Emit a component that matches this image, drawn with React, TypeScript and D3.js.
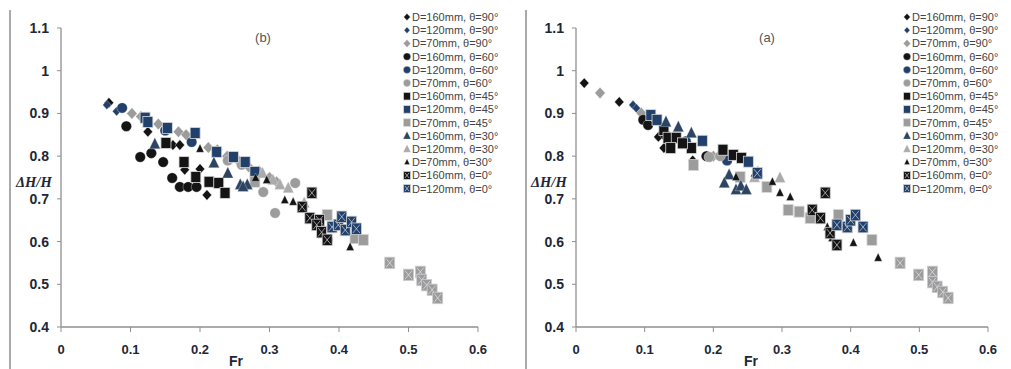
import React from "react";
import * as d3 from "d3";

type Pt = [number, number];

// ---------- tick values ----------
const yTicks = [0.4, 0.5, 0.6, 0.7, 0.8, 0.9, 1, 1.1];
const xTicks = [0, 0.1, 0.2, 0.3, 0.4, 0.5, 0.6];

// ---------- legend labels ----------
const legendLabels = [
  "D=160mm, θ=90°",
  "D=120mm, θ=90°",
  "D=70mm, θ=90°",
  "D=160mm, θ=60°",
  "D=120mm, θ=60°",
  "D=70mm, θ=60°",
  "D=160mm, θ=45°",
  "D=120mm, θ=45°",
  "D=70mm, θ=45°",
  "D=160mm, θ=30°",
  "D=120mm, θ=30°",
  "D=70mm, θ=30°",
  "D=160mm, θ=0°",
  "D=120mm, θ=0°",
];

// ---------- panel (b) data: [Fr, ΔH/H] ----------
const b160_90: Pt[] = [[0.069, 0.925], [0.125, 0.857], [0.161, 0.826], [0.171, 0.826], [0.178, 0.768], [0.2, 0.77], [0.21, 0.709]];
const b120_90: Pt[] = [[0.066, 0.92], [0.08, 0.905]];
const b70_90: Pt[] = [[0.102, 0.9], [0.115, 0.893], [0.14, 0.875], [0.169, 0.857], [0.18, 0.85], [0.212, 0.82], [0.225, 0.815], [0.239, 0.8], [0.255, 0.79], [0.27, 0.775], [0.285, 0.765], [0.3, 0.75], [0.31, 0.74]];
const b160_60: Pt[] = [[0.094, 0.87], [0.114, 0.798], [0.13, 0.807], [0.147, 0.786], [0.16, 0.749], [0.171, 0.728], [0.183, 0.728], [0.195, 0.728]];
const b120_60: Pt[] = [[0.088, 0.913], [0.15, 0.86], [0.188, 0.833]];
const b70_60: Pt[] = [[0.24, 0.79], [0.26, 0.78], [0.291, 0.716], [0.337, 0.737], [0.308, 0.667], [0.384, 0.604]];
const b160_45: Pt[] = [[0.151, 0.831], [0.177, 0.786], [0.194, 0.751], [0.213, 0.74], [0.227, 0.737], [0.236, 0.714]];
const b120_45: Pt[] = [[0.121, 0.89], [0.125, 0.88], [0.153, 0.866], [0.193, 0.854], [0.224, 0.81], [0.248, 0.798], [0.265, 0.786], [0.279, 0.763]];
const b70_45: Pt[] = [[0.279, 0.74], [0.383, 0.662], [0.423, 0.608], [0.435, 0.604]];
const b160_30: Pt[] = [[0.135, 0.828], [0.22, 0.784], [0.24, 0.76], [0.258, 0.733], [0.268, 0.733], [0.262, 0.728]];
const b120_30: Pt[] = [[0.29, 0.76], [0.305, 0.744], [0.315, 0.733], [0.327, 0.725], [0.35, 0.69]];
const b70_30: Pt[] = [[0.2, 0.817], [0.28, 0.749], [0.296, 0.744], [0.322, 0.697], [0.334, 0.693], [0.416, 0.587]];
const b160_0: Pt[] = [[0.361, 0.714], [0.347, 0.681], [0.358, 0.655], [0.372, 0.65], [0.368, 0.639], [0.375, 0.622], [0.383, 0.604]];
const b120_0: Pt[] = [[0.39, 0.634], [0.399, 0.639], [0.404, 0.658], [0.409, 0.627], [0.418, 0.646], [0.425, 0.63]];
const b70_0: Pt[] = [[0.473, 0.55], [0.5, 0.522], [0.517, 0.529], [0.519, 0.51], [0.526, 0.498], [0.534, 0.487], [0.542, 0.468]];

// ---------- panel (a) data: [Fr, ΔH/H] ----------
const a160_90: Pt[] = [[0.012, 0.971], [0.063, 0.927], [0.12, 0.845], [0.128, 0.819], [0.17, 0.79]];
const a120_90: Pt[] = [[0.083, 0.92], [0.088, 0.912]];
const a70_90: Pt[] = [[0.035, 0.948], [0.095, 0.901], [0.2, 0.8]];
const a160_60: Pt[] = [[0.098, 0.885], [0.105, 0.873], [0.13, 0.85], [0.19, 0.8]];
const a120_60: Pt[] = [[0.16, 0.835], [0.22, 0.79]];
const a70_60: Pt[] = [[0.194, 0.798], [0.21, 0.8]];
const a160_45: Pt[] = [[0.128, 0.861], [0.134, 0.843], [0.146, 0.843], [0.138, 0.819], [0.168, 0.819], [0.214, 0.815], [0.229, 0.803], [0.241, 0.796], [0.155, 0.83]];
const a120_45: Pt[] = [[0.109, 0.896], [0.118, 0.885], [0.184, 0.836], [0.251, 0.787]];
const a70_45: Pt[] = [[0.171, 0.779], [0.239, 0.751], [0.278, 0.728], [0.309, 0.674], [0.325, 0.67], [0.341, 0.655], [0.382, 0.662], [0.431, 0.604]];
const a160_30: Pt[] = [[0.131, 0.88], [0.149, 0.868], [0.168, 0.854], [0.223, 0.756], [0.216, 0.737], [0.233, 0.721], [0.24, 0.73], [0.248, 0.721]];
const a120_30: Pt[] = [[0.26, 0.75], [0.265, 0.763], [0.297, 0.749]];
const a70_30: Pt[] = [[0.233, 0.751], [0.26, 0.76], [0.286, 0.74], [0.297, 0.714], [0.312, 0.704], [0.366, 0.634], [0.373, 0.608], [0.404, 0.597], [0.44, 0.562]];
const a160_0: Pt[] = [[0.363, 0.714], [0.344, 0.674], [0.356, 0.655], [0.37, 0.62], [0.38, 0.592]];
const a120_0: Pt[] = [[0.264, 0.76], [0.38, 0.639], [0.395, 0.634], [0.4, 0.65], [0.407, 0.662], [0.418, 0.634]];
const a70_0: Pt[] = [[0.472, 0.55], [0.499, 0.522], [0.519, 0.529], [0.519, 0.505], [0.526, 0.494], [0.534, 0.482], [0.542, 0.468]];

// ---------- styles ----------
const BLACK = "#141414";
const BLUE = "#21406b";
const GRAY = "#9c9c9c";
const SLATE = "#2d4563";
const LGRAY = "#ababab";

type Shape = "diamond" | "circle" | "square" | "triangle" | "xsquare";
interface Style { shape: Shape; color: string; size: number; }

const styles: Style[] = [
  { shape: "diamond", color: BLACK, size: 9 },
  { shape: "diamond", color: BLUE, size: 8 },
  { shape: "diamond", color: GRAY, size: 10 },
  { shape: "circle", color: BLACK, size: 10.5 },
  { shape: "circle", color: BLUE, size: 10.5 },
  { shape: "circle", color: GRAY, size: 10.5 },
  { shape: "square", color: BLACK, size: 10 },
  { shape: "square", color: BLUE, size: 10 },
  { shape: "square", color: GRAY, size: 10 },
  { shape: "triangle", color: SLATE, size: 11 },
  { shape: "triangle", color: LGRAY, size: 11 },
  { shape: "triangle", color: BLACK, size: 8 },
  { shape: "xsquare", color: BLACK, size: 10 },
  { shape: "xsquare", color: BLUE, size: 10 },
  { shape: "xsquare", color: GRAY, size: 10 },
];

const bSeries = [b160_90, b120_90, b70_90, b160_60, b120_60, b70_60, b160_45, b120_45, b70_45, b160_30, b120_30, b70_30, b160_0, b120_0, b70_0];
const aSeries = [a160_90, a120_90, a70_90, a160_60, a120_60, a70_60, a160_45, a120_45, a70_45, a160_30, a120_30, a70_30, a160_0, a120_0, a70_0];

function Marker({ x, y, st, scale = 1 }: { x: number; y: number; st: Style; scale?: number }) {
  const s = st.size * scale;
  const h = s / 2;
  const stroke = "rgba(255,255,255,0.55)";
  switch (st.shape) {
    case "diamond":
      return <path d={`M${x},${y - h * 1.15}L${x + h * 1.05},${y}L${x},${y + h * 1.15}L${x - h * 1.05},${y}Z`} fill={st.color} stroke={stroke} strokeWidth={0.6} />;
    case "circle":
      return <circle cx={x} cy={y} r={h} fill={st.color} stroke={stroke} strokeWidth={0.6} />;
    case "square":
      return <rect x={x - h} y={y - h * 1.1} width={s} height={s * 1.1} fill={st.color} stroke="#d8d8d8" strokeWidth={0.8} />;
    case "triangle":
      return <path d={`M${x},${y - h * 1.2}L${x + h},${y + h * 0.85}L${x - h},${y + h * 0.85}Z`} fill={st.color} stroke={stroke} strokeWidth={0.5} />;
    case "xsquare":
      return (
        <g>
          <rect x={x - h} y={y - h * 1.15} width={s} height={s * 1.15} fill={st.color} stroke="#cfcfcf" strokeWidth={0.8} />
          <path d={`M${x - h + 1.5},${y - h * 1.15 + 1.5}L${x + h - 1.5},${y + h * 1.15 - 1.5}M${x + h - 1.5},${y - h * 1.15 + 1.5}L${x - h + 1.5},${y + h * 1.15 - 1.5}`} stroke="rgba(235,240,250,0.75)" strokeWidth={0.8} />
        </g>
      );
  }
  return null;
}

interface PanelProps {
  x0: number; x1: number; title: string; titleX: number;
  series: Pt[][]; legendX: number; ylabelX: number; frX: number;
}

const yTop = 28, yBot = 327;

function Panel({ x0, x1, title, titleX, series, legendX, ylabelX, frX }: PanelProps) {
  const xs = d3.scaleLinear().domain([0, 0.6]).range([x0, x1]);
  const ys = d3.scaleLinear().domain([0.4, 1.1]).range([yBot, yTop]);
  const tickFont = "'Liberation Sans', Arial, sans-serif";
  return (
    <g>
      {/* axes */}
      <line x1={x0} x2={x0} y1={yTop} y2={yBot} stroke="#8f8f8f" strokeWidth={1.3} />
      <line x1={x0} x2={x1} y1={yBot} y2={yBot} stroke="#8f8f8f" strokeWidth={1.3} />
      {yTicks.map((t) => (
        <g key={"y" + t}>
          <line x1={x0 - 4} x2={x0} y1={ys(t)} y2={ys(t)} stroke="#8f8f8f" strokeWidth={1} />
          <text x={x0 - 12} y={ys(t) + 5} textAnchor="end" fontFamily={tickFont} fontWeight="bold" fontSize={14} fill="#1d2738">
            {d3.format("~g")(t)}
          </text>
        </g>
      ))}
      {xTicks.map((t) => (
        <g key={"x" + t}>
          <line x1={xs(t)} x2={xs(t)} y1={yBot} y2={yBot + 5} stroke="#8f8f8f" strokeWidth={1} />
          <text x={xs(t)} y={yBot + 27} textAnchor="middle" fontFamily={tickFont} fontWeight="bold" fontSize={13} fill="#1d2738">
            {d3.format("~g")(t)}
          </text>
        </g>
      ))}
      <text x={frX} y={366} textAnchor="middle" fontFamily={tickFont} fontWeight="bold" fontSize={14} fill="#1d2738">Fr</text>
      <text x={ylabelX} y={187} fontFamily="'Liberation Serif', 'DejaVu Serif', serif" fontStyle="italic" fontWeight="bold" fontSize={14.5} fill="#1d2738">ΔH/H</text>
      <text x={titleX} y={42} textAnchor="middle" fontFamily={tickFont} fontSize={13} fill="#555">{title}</text>
      {/* data */}
      {series.map((pts, i) => (
        <g key={"s" + i}>
          {pts.map((p, j) => (
            <Marker key={j} x={xs(p[0])} y={ys(p[1])} st={styles[i]} />
          ))}
        </g>
      ))}
      {/* legend */}
      {legendLabels.map((lab, i) => {
        const ly = 17 + i * 13.2;
        return (
          <g key={"l" + i}>
            <Marker x={legendX} y={ly} st={styles[i]} scale={0.7} />
            <text x={legendX + 5} y={ly + 4} fontFamily={tickFont} fontSize={11} fill="#444">{lab}</text>
          </g>
        );
      })}
    </g>
  );
}

export default function App() {
  return (
    <svg width={1011} height={369} style={{ position: "absolute", left: 0, top: 0, background: "#fff" }}>
      <rect width={1011} height={369} fill="#fff" />
      <line x1={10} x2={10} y1={10} y2={369} stroke="#555" strokeWidth={1} />
      <line x1={526} x2={526} y1={10} y2={369} stroke="#555" strokeWidth={1} />
      <Panel x0={61} x1={478} title="(b)" titleX={263} series={bSeries} legendX={407} ylabelX={16} frX={236} />
      <Panel x0={576} x1={988} title="(a)" titleX={767} series={aSeries} legendX={907} ylabelX={531} frX={751} />
    </svg>
  );
}
